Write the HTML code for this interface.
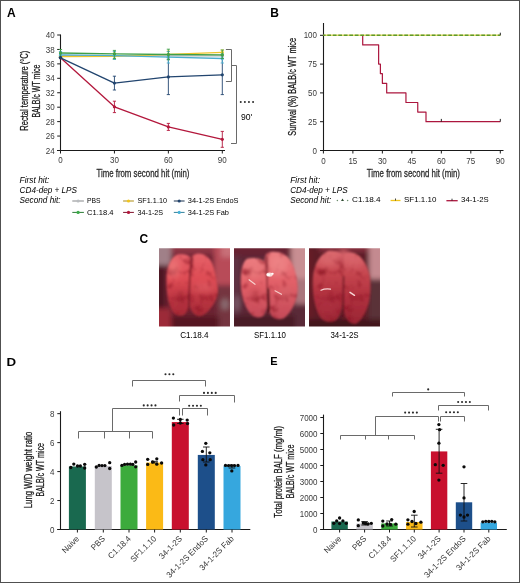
<!DOCTYPE html>
<html><head><meta charset="utf-8"><style>
html,body{margin:0;padding:0;background:#fff;}
body{width:520px;height:583px;overflow:hidden;}
svg{display:block;will-change:transform;}
text{font-family:"Liberation Sans", sans-serif;}
</style></head><body>
<svg width="520" height="583" viewBox="0 0 520 583" font-family='"Liberation Sans", sans-serif'>
<defs>
<filter id="blur1" x="-10%" y="-10%" width="120%" height="120%"><feGaussianBlur stdDeviation="0.95"/></filter>
<filter id="blur3" x="-20%" y="-20%" width="140%" height="140%"><feGaussianBlur stdDeviation="2.4"/></filter>
<filter id="blur4" x="-30%" y="-30%" width="160%" height="160%"><feGaussianBlur stdDeviation="3.2"/></filter>
<filter id="blur2" x="-20%" y="-20%" width="140%" height="140%"><feGaussianBlur stdDeviation="0.7"/></filter>
<filter id="tex" x="0" y="0" width="100%" height="100%" color-interpolation-filters="sRGB">
  <feTurbulence type="fractalNoise" baseFrequency="0.11" numOctaves="3" seed="7" result="n"/>
  <feColorMatrix in="n" type="matrix" values="0 0 0 0 0.55  0 0 0 0 0.08  0 0 0 0 0.14  0 0 -2.2 0 1.05" result="spots"/>
  <feComposite in="spots" in2="SourceGraphic" operator="in" result="s2"/>
  <feGaussianBlur in="s2" stdDeviation="0.6" result="s3"/>
  <feMerge><feMergeNode in="SourceGraphic"/><feMergeNode in="s3"/></feMerge>
</filter>
<filter id="texbg" x="0" y="0" width="100%" height="100%" color-interpolation-filters="sRGB">
  <feTurbulence type="fractalNoise" baseFrequency="0.09 0.2" numOctaves="2" seed="11" result="n"/>
  <feColorMatrix in="n" type="matrix" values="0 0 0 0 0.2  0 0 0 0 0.03  0 0 0 0 0.07  0 0 -2.4 0 1.1" result="spots"/>
  <feComposite in="spots" in2="SourceGraphic" operator="in" result="s2"/>
  <feGaussianBlur in="s2" stdDeviation="0.7" result="s3"/>
  <feMerge><feMergeNode in="SourceGraphic"/><feMergeNode in="s3"/></feMerge>
</filter>
<linearGradient id="lobeA" x1="0" y1="0" x2="0" y2="1"><stop offset="0" stop-color="#e6626a"/><stop offset="0.4" stop-color="#de4c54"/><stop offset="0.72" stop-color="#bc3642"/><stop offset="1" stop-color="#a62a36"/></linearGradient>
<linearGradient id="lobeB" x1="0" y1="0" x2="0" y2="1"><stop offset="0" stop-color="#ec7c80"/><stop offset="0.45" stop-color="#e26068"/><stop offset="1" stop-color="#c44a58"/></linearGradient>
<linearGradient id="lobeC" x1="0" y1="0" x2="0" y2="1"><stop offset="0" stop-color="#da666c"/><stop offset="0.3" stop-color="#c6464f"/><stop offset="0.62" stop-color="#b0303e"/><stop offset="1" stop-color="#9a2634"/></linearGradient>
</defs>
<rect x="0" y="0" width="520" height="583" fill="#fff"/>
<text x="7.00" y="16.50" font-size="12" font-weight="bold" fill="#000" >A</text>
<text x="270.30" y="16.60" font-size="12" font-weight="bold" fill="#000" >B</text>
<text x="139.60" y="242.70" font-size="12" font-weight="bold" fill="#000" >C</text>
<text x="6.50" y="365.60" font-size="11" textLength="9.60" lengthAdjust="spacingAndGlyphs" font-weight="bold" fill="#000" >D</text>
<text x="270.30" y="365.30" font-size="11" font-weight="bold" fill="#000" >E</text>
<line x1="60.50" y1="34.50" x2="60.50" y2="151.00" stroke="#1a1a1a" stroke-width="1.1" />
<line x1="57.00" y1="150.50" x2="225.00" y2="150.50" stroke="#1a1a1a" stroke-width="1.1" />
<line x1="57.20" y1="35.00" x2="60.50" y2="35.00" stroke="#1a1a1a" stroke-width="1" />
<text x="54.60" y="38.10" font-size="9.0" text-anchor="end" textLength="8.90" lengthAdjust="spacingAndGlyphs" fill="#3a3a3a" >40</text>
<line x1="57.20" y1="49.44" x2="60.50" y2="49.44" stroke="#1a1a1a" stroke-width="1" />
<text x="54.60" y="52.54" font-size="9.0" text-anchor="end" textLength="8.90" lengthAdjust="spacingAndGlyphs" fill="#3a3a3a" >38</text>
<line x1="57.20" y1="63.88" x2="60.50" y2="63.88" stroke="#1a1a1a" stroke-width="1" />
<text x="54.60" y="66.97" font-size="9.0" text-anchor="end" textLength="8.90" lengthAdjust="spacingAndGlyphs" fill="#3a3a3a" >36</text>
<line x1="57.20" y1="78.31" x2="60.50" y2="78.31" stroke="#1a1a1a" stroke-width="1" />
<text x="54.60" y="81.41" font-size="9.0" text-anchor="end" textLength="8.90" lengthAdjust="spacingAndGlyphs" fill="#3a3a3a" >34</text>
<line x1="57.20" y1="92.75" x2="60.50" y2="92.75" stroke="#1a1a1a" stroke-width="1" />
<text x="54.60" y="95.85" font-size="9.0" text-anchor="end" textLength="8.90" lengthAdjust="spacingAndGlyphs" fill="#3a3a3a" >32</text>
<line x1="57.20" y1="107.19" x2="60.50" y2="107.19" stroke="#1a1a1a" stroke-width="1" />
<text x="54.60" y="110.29" font-size="9.0" text-anchor="end" textLength="8.90" lengthAdjust="spacingAndGlyphs" fill="#3a3a3a" >30</text>
<line x1="57.20" y1="121.62" x2="60.50" y2="121.62" stroke="#1a1a1a" stroke-width="1" />
<text x="54.60" y="124.72" font-size="9.0" text-anchor="end" textLength="8.90" lengthAdjust="spacingAndGlyphs" fill="#3a3a3a" >28</text>
<line x1="57.20" y1="136.06" x2="60.50" y2="136.06" stroke="#1a1a1a" stroke-width="1" />
<text x="54.60" y="139.16" font-size="9.0" text-anchor="end" textLength="8.90" lengthAdjust="spacingAndGlyphs" fill="#3a3a3a" >26</text>
<line x1="57.20" y1="150.50" x2="60.50" y2="150.50" stroke="#1a1a1a" stroke-width="1" />
<text x="54.60" y="153.60" font-size="9.0" text-anchor="end" textLength="8.90" lengthAdjust="spacingAndGlyphs" fill="#3a3a3a" >24</text>
<line x1="60.50" y1="150.50" x2="60.50" y2="153.50" stroke="#1a1a1a" stroke-width="1" />
<text x="60.50" y="163.40" font-size="9.0" text-anchor="middle" textLength="4.45" lengthAdjust="spacingAndGlyphs" fill="#3a3a3a" >0</text>
<line x1="114.43" y1="150.50" x2="114.43" y2="153.50" stroke="#1a1a1a" stroke-width="1" />
<text x="114.43" y="163.40" font-size="9.0" text-anchor="middle" textLength="8.90" lengthAdjust="spacingAndGlyphs" fill="#3a3a3a" >30</text>
<line x1="168.37" y1="150.50" x2="168.37" y2="153.50" stroke="#1a1a1a" stroke-width="1" />
<text x="168.37" y="163.40" font-size="9.0" text-anchor="middle" textLength="8.90" lengthAdjust="spacingAndGlyphs" fill="#3a3a3a" >60</text>
<line x1="222.30" y1="150.50" x2="222.30" y2="153.50" stroke="#1a1a1a" stroke-width="1" />
<text x="222.30" y="163.40" font-size="9.0" text-anchor="middle" textLength="8.90" lengthAdjust="spacingAndGlyphs" fill="#3a3a3a" >90</text>
<text x="96.40" y="177.30" font-size="10.3" textLength="93.00" lengthAdjust="spacingAndGlyphs" fill="#2a2a2a" stroke="#2a2a2a" stroke-width="0.28">Time from second hit (min)</text>
<text x="0" y="0" font-size="10.3" text-anchor="middle" transform="translate(27.80,90.70) rotate(-90)" stroke="#333" stroke-width="0.28" textLength="80.00" lengthAdjust="spacingAndGlyphs">Rectal temperature (°C)</text>
<text x="0" y="0" font-size="10.3" text-anchor="middle" transform="translate(39.60,91.10) rotate(-90)" stroke="#333" stroke-width="0.28" textLength="53.00" lengthAdjust="spacingAndGlyphs">BALB/c WT mice</text>
<line x1="114.43" y1="101.20" x2="114.43" y2="112.60" stroke="#b3173c" stroke-width="0.9" />
<line x1="112.83" y1="101.20" x2="116.03" y2="101.20" stroke="#b3173c" stroke-width="0.9" />
<line x1="112.83" y1="112.60" x2="116.03" y2="112.60" stroke="#b3173c" stroke-width="0.9" />
<line x1="168.37" y1="123.40" x2="168.37" y2="130.40" stroke="#b3173c" stroke-width="0.9" />
<line x1="166.77" y1="123.40" x2="169.97" y2="123.40" stroke="#b3173c" stroke-width="0.9" />
<line x1="166.77" y1="130.40" x2="169.97" y2="130.40" stroke="#b3173c" stroke-width="0.9" />
<line x1="222.30" y1="131.40" x2="222.30" y2="147.30" stroke="#b3173c" stroke-width="0.9" />
<line x1="220.70" y1="131.40" x2="223.90" y2="131.40" stroke="#b3173c" stroke-width="0.9" />
<line x1="220.70" y1="147.30" x2="223.90" y2="147.30" stroke="#b3173c" stroke-width="0.9" />
<polyline points="60.50,57.80 114.43,106.80 168.37,126.90 222.30,139.30" fill="none" stroke="#b3173c" stroke-width="1.3" stroke-linejoin="round" />
<circle cx="60.50" cy="57.80" r="1.6" fill="#b3173c"/>
<circle cx="114.43" cy="106.80" r="1.6" fill="#b3173c"/>
<circle cx="168.37" cy="126.90" r="1.6" fill="#b3173c"/>
<circle cx="222.30" cy="139.30" r="1.6" fill="#b3173c"/>
<line x1="114.43" y1="76.20" x2="114.43" y2="90.00" stroke="#22456f" stroke-width="0.9" />
<line x1="112.83" y1="76.20" x2="116.03" y2="76.20" stroke="#22456f" stroke-width="0.9" />
<line x1="112.83" y1="90.00" x2="116.03" y2="90.00" stroke="#22456f" stroke-width="0.9" />
<line x1="168.37" y1="59.20" x2="168.37" y2="94.60" stroke="#22456f" stroke-width="0.9" />
<line x1="166.77" y1="59.20" x2="169.97" y2="59.20" stroke="#22456f" stroke-width="0.9" />
<line x1="166.77" y1="94.60" x2="169.97" y2="94.60" stroke="#22456f" stroke-width="0.9" />
<line x1="222.30" y1="55.00" x2="222.30" y2="94.60" stroke="#22456f" stroke-width="0.9" />
<line x1="220.70" y1="55.00" x2="223.90" y2="55.00" stroke="#22456f" stroke-width="0.9" />
<line x1="220.70" y1="94.60" x2="223.90" y2="94.60" stroke="#22456f" stroke-width="0.9" />
<polyline points="60.50,57.80 114.43,83.10 168.37,76.90 222.30,74.80" fill="none" stroke="#22456f" stroke-width="1.3" stroke-linejoin="round" />
<circle cx="60.50" cy="57.80" r="1.6" fill="#22456f"/>
<circle cx="114.43" cy="83.10" r="1.6" fill="#22456f"/>
<circle cx="168.37" cy="76.90" r="1.6" fill="#22456f"/>
<circle cx="222.30" cy="74.80" r="1.6" fill="#22456f"/>
<polyline points="60.50,55.50 114.43,55.60 168.37,55.80 222.30,55.80" fill="none" stroke="#b0b4b8" stroke-width="1.3" stroke-linejoin="round" />
<circle cx="60.50" cy="55.50" r="1.6" fill="#b0b4b8"/>
<circle cx="114.43" cy="55.60" r="1.6" fill="#b0b4b8"/>
<circle cx="168.37" cy="55.80" r="1.6" fill="#b0b4b8"/>
<circle cx="222.30" cy="55.80" r="1.6" fill="#b0b4b8"/>
<line x1="114.43" y1="53.00" x2="114.43" y2="59.50" stroke="#eec42a" stroke-width="0.9" />
<line x1="112.83" y1="53.00" x2="116.03" y2="53.00" stroke="#eec42a" stroke-width="0.9" />
<line x1="112.83" y1="59.50" x2="116.03" y2="59.50" stroke="#eec42a" stroke-width="0.9" />
<line x1="168.37" y1="51.00" x2="168.37" y2="57.50" stroke="#eec42a" stroke-width="0.9" />
<line x1="166.77" y1="51.00" x2="169.97" y2="51.00" stroke="#eec42a" stroke-width="0.9" />
<line x1="166.77" y1="57.50" x2="169.97" y2="57.50" stroke="#eec42a" stroke-width="0.9" />
<line x1="222.30" y1="50.00" x2="222.30" y2="55.00" stroke="#eec42a" stroke-width="0.9" />
<line x1="220.70" y1="50.00" x2="223.90" y2="50.00" stroke="#eec42a" stroke-width="0.9" />
<line x1="220.70" y1="55.00" x2="223.90" y2="55.00" stroke="#eec42a" stroke-width="0.9" />
<polyline points="60.50,56.50 114.43,56.30 168.37,54.30 222.30,52.40" fill="none" stroke="#eec42a" stroke-width="1.3" stroke-linejoin="round" />
<circle cx="60.50" cy="56.50" r="1.6" fill="#eec42a"/>
<circle cx="114.43" cy="56.30" r="1.6" fill="#eec42a"/>
<circle cx="168.37" cy="54.30" r="1.6" fill="#eec42a"/>
<circle cx="222.30" cy="52.40" r="1.6" fill="#eec42a"/>
<line x1="60.50" y1="51.50" x2="60.50" y2="58.00" stroke="#4aaed0" stroke-width="0.9" />
<line x1="58.90" y1="51.50" x2="62.10" y2="51.50" stroke="#4aaed0" stroke-width="0.9" />
<line x1="58.90" y1="58.00" x2="62.10" y2="58.00" stroke="#4aaed0" stroke-width="0.9" />
<line x1="114.43" y1="51.50" x2="114.43" y2="59.50" stroke="#4aaed0" stroke-width="0.9" />
<line x1="112.83" y1="51.50" x2="116.03" y2="51.50" stroke="#4aaed0" stroke-width="0.9" />
<line x1="112.83" y1="59.50" x2="116.03" y2="59.50" stroke="#4aaed0" stroke-width="0.9" />
<line x1="168.37" y1="51.50" x2="168.37" y2="63.00" stroke="#4aaed0" stroke-width="0.9" />
<line x1="166.77" y1="51.50" x2="169.97" y2="51.50" stroke="#4aaed0" stroke-width="0.9" />
<line x1="166.77" y1="63.00" x2="169.97" y2="63.00" stroke="#4aaed0" stroke-width="0.9" />
<line x1="222.30" y1="54.00" x2="222.30" y2="63.00" stroke="#4aaed0" stroke-width="0.9" />
<line x1="220.70" y1="54.00" x2="223.90" y2="54.00" stroke="#4aaed0" stroke-width="0.9" />
<line x1="220.70" y1="63.00" x2="223.90" y2="63.00" stroke="#4aaed0" stroke-width="0.9" />
<polyline points="60.50,54.90 114.43,55.60 168.37,57.20 222.30,58.50" fill="none" stroke="#4aaed0" stroke-width="1.3" stroke-linejoin="round" />
<circle cx="60.50" cy="54.90" r="1.6" fill="#4aaed0"/>
<circle cx="114.43" cy="55.60" r="1.6" fill="#4aaed0"/>
<circle cx="168.37" cy="57.20" r="1.6" fill="#4aaed0"/>
<circle cx="222.30" cy="58.50" r="1.6" fill="#4aaed0"/>
<line x1="60.50" y1="49.50" x2="60.50" y2="57.00" stroke="#3fa048" stroke-width="0.9" />
<line x1="58.90" y1="49.50" x2="62.10" y2="49.50" stroke="#3fa048" stroke-width="0.9" />
<line x1="58.90" y1="57.00" x2="62.10" y2="57.00" stroke="#3fa048" stroke-width="0.9" />
<line x1="114.43" y1="50.40" x2="114.43" y2="58.50" stroke="#3fa048" stroke-width="0.9" />
<line x1="112.83" y1="50.40" x2="116.03" y2="50.40" stroke="#3fa048" stroke-width="0.9" />
<line x1="112.83" y1="58.50" x2="116.03" y2="58.50" stroke="#3fa048" stroke-width="0.9" />
<line x1="168.37" y1="49.20" x2="168.37" y2="59.80" stroke="#3fa048" stroke-width="0.9" />
<line x1="166.77" y1="49.20" x2="169.97" y2="49.20" stroke="#3fa048" stroke-width="0.9" />
<line x1="166.77" y1="59.80" x2="169.97" y2="59.80" stroke="#3fa048" stroke-width="0.9" />
<line x1="222.30" y1="50.00" x2="222.30" y2="58.50" stroke="#3fa048" stroke-width="0.9" />
<line x1="220.70" y1="50.00" x2="223.90" y2="50.00" stroke="#3fa048" stroke-width="0.9" />
<line x1="220.70" y1="58.50" x2="223.90" y2="58.50" stroke="#3fa048" stroke-width="0.9" />
<polyline points="60.50,53.00 114.43,53.80 168.37,54.50 222.30,54.90" fill="none" stroke="#3fa048" stroke-width="1.3" stroke-linejoin="round" />
<circle cx="60.50" cy="53.00" r="1.6" fill="#3fa048"/>
<circle cx="114.43" cy="53.80" r="1.6" fill="#3fa048"/>
<circle cx="168.37" cy="54.50" r="1.6" fill="#3fa048"/>
<circle cx="222.30" cy="54.90" r="1.6" fill="#3fa048"/>
<circle cx="60.50" cy="57.60" r="1.7" fill="#1e3a5c"/>
<path d="M225.9,49.5 H231.5 V81.5 H225.9" fill="none" stroke="#6a6a6a" stroke-width="1"/>
<path d="M231.5,65.5 H236.5 V143.5 H231.0" fill="none" stroke="#6a6a6a" stroke-width="1"/>
<circle cx="240.75" cy="102.10" r="1.0" fill="#2a2a2a"/>
<circle cx="244.85" cy="102.10" r="1.0" fill="#2a2a2a"/>
<circle cx="248.95" cy="102.10" r="1.0" fill="#2a2a2a"/>
<circle cx="253.05" cy="102.10" r="1.0" fill="#2a2a2a"/>
<text x="241.00" y="120.20" font-size="8.2" textLength="11.20" lengthAdjust="spacingAndGlyphs" >90'</text>
<text x="19.60" y="182.70" font-size="8.2" textLength="29.80" lengthAdjust="spacingAndGlyphs" font-style="italic" >First hit:</text>
<text x="19.60" y="192.70" font-size="8.2" textLength="57.40" lengthAdjust="spacingAndGlyphs" font-style="italic" >CD4-dep + LPS</text>
<text x="19.60" y="202.70" font-size="8.2" textLength="41.00" lengthAdjust="spacingAndGlyphs" font-style="italic" >Second hit:</text>
<line x1="72.30" y1="201.00" x2="83.90" y2="201.00" stroke="#858789" stroke-width="1.0" />
<circle cx="78.10" cy="201.00" r="1.6" fill="#b9bcbf"/>
<text x="87.00" y="203.30" font-size="7.6" textLength="13.60" lengthAdjust="spacingAndGlyphs" >PBS</text>
<line x1="72.30" y1="212.40" x2="83.90" y2="212.40" stroke="#2b7b35" stroke-width="1.0" />
<circle cx="78.10" cy="212.40" r="1.6" fill="#3cab4a"/>
<text x="87.00" y="214.70" font-size="7.6" textLength="26.50" lengthAdjust="spacingAndGlyphs" >C1.18.4</text>
<line x1="123.10" y1="201.00" x2="133.90" y2="201.00" stroke="#ae8d14" stroke-width="1.0" />
<circle cx="128.50" cy="201.00" r="1.6" fill="#f2c51c"/>
<text x="137.50" y="203.30" font-size="7.6" textLength="29.50" lengthAdjust="spacingAndGlyphs" >SF1.1.10</text>
<line x1="123.10" y1="212.40" x2="133.90" y2="212.40" stroke="#80102b" stroke-width="1.0" />
<circle cx="128.50" cy="212.40" r="1.6" fill="#b3173c"/>
<text x="137.50" y="214.70" font-size="7.6" textLength="25.60" lengthAdjust="spacingAndGlyphs" >34-1-2S</text>
<line x1="173.80" y1="201.00" x2="184.60" y2="201.00" stroke="#18314f" stroke-width="1.0" />
<circle cx="179.20" cy="201.00" r="1.6" fill="#22456f"/>
<text x="187.80" y="203.30" font-size="7.6" textLength="50.70" lengthAdjust="spacingAndGlyphs" >34-1-2S EndoS</text>
<line x1="173.80" y1="212.40" x2="184.60" y2="212.40" stroke="#32809b" stroke-width="1.0" />
<circle cx="179.20" cy="212.40" r="1.6" fill="#46b2d8"/>
<text x="187.80" y="214.70" font-size="7.6" textLength="41.20" lengthAdjust="spacingAndGlyphs" >34-1-2S Fab</text>
<line x1="323.50" y1="23.00" x2="323.50" y2="151.00" stroke="#1a1a1a" stroke-width="1.1" />
<line x1="320.00" y1="150.50" x2="503.50" y2="150.50" stroke="#1a1a1a" stroke-width="1.1" />
<line x1="320.00" y1="35.30" x2="323.50" y2="35.30" stroke="#1a1a1a" stroke-width="1" />
<text x="317.00" y="38.40" font-size="9.0" text-anchor="end" textLength="13.35" lengthAdjust="spacingAndGlyphs" fill="#3a3a3a" >100</text>
<line x1="320.00" y1="64.10" x2="323.50" y2="64.10" stroke="#1a1a1a" stroke-width="1" />
<text x="317.00" y="67.20" font-size="9.0" text-anchor="end" textLength="8.90" lengthAdjust="spacingAndGlyphs" fill="#3a3a3a" >75</text>
<line x1="320.00" y1="92.90" x2="323.50" y2="92.90" stroke="#1a1a1a" stroke-width="1" />
<text x="317.00" y="96.00" font-size="9.0" text-anchor="end" textLength="8.90" lengthAdjust="spacingAndGlyphs" fill="#3a3a3a" >50</text>
<line x1="320.00" y1="121.70" x2="323.50" y2="121.70" stroke="#1a1a1a" stroke-width="1" />
<text x="317.00" y="124.80" font-size="9.0" text-anchor="end" textLength="8.90" lengthAdjust="spacingAndGlyphs" fill="#3a3a3a" >25</text>
<line x1="320.00" y1="150.50" x2="323.50" y2="150.50" stroke="#1a1a1a" stroke-width="1" />
<text x="317.00" y="153.60" font-size="9.0" text-anchor="end" textLength="4.45" lengthAdjust="spacingAndGlyphs" fill="#3a3a3a" >0</text>
<line x1="323.40" y1="150.50" x2="323.40" y2="153.50" stroke="#1a1a1a" stroke-width="1" />
<text x="323.40" y="163.60" font-size="9.0" text-anchor="middle" textLength="4.45" lengthAdjust="spacingAndGlyphs" fill="#3a3a3a" >0</text>
<line x1="352.88" y1="150.50" x2="352.88" y2="153.50" stroke="#1a1a1a" stroke-width="1" />
<text x="352.88" y="163.60" font-size="9.0" text-anchor="middle" textLength="8.90" lengthAdjust="spacingAndGlyphs" fill="#3a3a3a" >15</text>
<line x1="382.37" y1="150.50" x2="382.37" y2="153.50" stroke="#1a1a1a" stroke-width="1" />
<text x="382.37" y="163.60" font-size="9.0" text-anchor="middle" textLength="8.90" lengthAdjust="spacingAndGlyphs" fill="#3a3a3a" >30</text>
<line x1="411.85" y1="150.50" x2="411.85" y2="153.50" stroke="#1a1a1a" stroke-width="1" />
<text x="411.85" y="163.60" font-size="9.0" text-anchor="middle" textLength="8.90" lengthAdjust="spacingAndGlyphs" fill="#3a3a3a" >45</text>
<line x1="441.33" y1="150.50" x2="441.33" y2="153.50" stroke="#1a1a1a" stroke-width="1" />
<text x="441.33" y="163.60" font-size="9.0" text-anchor="middle" textLength="8.90" lengthAdjust="spacingAndGlyphs" fill="#3a3a3a" >60</text>
<line x1="470.82" y1="150.50" x2="470.82" y2="153.50" stroke="#1a1a1a" stroke-width="1" />
<text x="470.82" y="163.60" font-size="9.0" text-anchor="middle" textLength="8.90" lengthAdjust="spacingAndGlyphs" fill="#3a3a3a" >75</text>
<line x1="500.30" y1="150.50" x2="500.30" y2="153.50" stroke="#1a1a1a" stroke-width="1" />
<text x="500.30" y="163.60" font-size="9.0" text-anchor="middle" textLength="8.90" lengthAdjust="spacingAndGlyphs" fill="#3a3a3a" >90</text>
<text x="366.80" y="177.10" font-size="10.3" textLength="93.20" lengthAdjust="spacingAndGlyphs" fill="#2a2a2a" stroke="#2a2a2a" stroke-width="0.28">Time from second hit (min)</text>
<text x="0" y="0" font-size="10.3" text-anchor="middle" transform="translate(295.60,86.80) rotate(-90)" stroke="#333" stroke-width="0.28" textLength="97.80" lengthAdjust="spacingAndGlyphs">Survival  (%) BALB/c WT mice</text>
<polyline points="362.71,35.30 362.71,44.90 378.63,44.90 378.63,64.10 380.40,64.10 380.40,73.70 382.37,73.70 382.37,83.30 386.69,83.30 386.69,92.90 405.95,92.90 405.95,102.50 417.75,102.50 417.75,112.10 426.00,112.10 426.00,121.70 500.30,121.70" fill="none" stroke="#ac163e" stroke-width="1.2" stroke-linejoin="round" stroke-linejoin="miter"/>
<line x1="441.33" y1="118.90" x2="441.33" y2="121.70" stroke="#222" stroke-width="1" />
<line x1="500.30" y1="118.90" x2="500.30" y2="121.70" stroke="#222" stroke-width="1" />
<line x1="323.40" y1="35.30" x2="500.30" y2="35.30" stroke="#e2dc6a" stroke-width="1.6" />
<line x1="323.40" y1="35.30" x2="500.30" y2="35.30" stroke="#5f9a2a" stroke-width="1.5" stroke-dasharray="3.7,1.8" stroke-dashoffset="1.6"/>
<line x1="500.30" y1="32.70" x2="500.30" y2="35.30" stroke="#222" stroke-width="1" />
<text x="290.20" y="182.70" font-size="8.2" textLength="29.80" lengthAdjust="spacingAndGlyphs" font-style="italic" >First hit:</text>
<text x="290.20" y="192.70" font-size="8.2" textLength="57.40" lengthAdjust="spacingAndGlyphs" font-style="italic" >CD4-dep + LPS</text>
<text x="290.20" y="202.70" font-size="8.2" textLength="41.00" lengthAdjust="spacingAndGlyphs" font-style="italic" >Second hit:</text>
<circle cx="337.40" cy="200.60" r="0.75" fill="#6e8e6e"/>
<circle cx="347.60" cy="200.60" r="0.75" fill="#6e8e6e"/>
<path d="M342.5,198.5 l1.5,2.5 h-3z" fill="#2e4a30"/>
<text x="352.00" y="202.30" font-size="8" textLength="28.60" lengthAdjust="spacingAndGlyphs" >C1.18.4</text>
<line x1="390.60" y1="200.50" x2="400.50" y2="200.50" stroke="#f2c51c" stroke-width="1.3" />
<line x1="395.50" y1="198.50" x2="395.50" y2="200.50" stroke="#333" stroke-width="0.9" />
<text x="404.00" y="202.30" font-size="8" textLength="32.40" lengthAdjust="spacingAndGlyphs" >SF1.1.10</text>
<line x1="446.40" y1="200.70" x2="457.70" y2="200.70" stroke="#ac163e" stroke-width="1.3" />
<line x1="452.00" y1="198.70" x2="452.00" y2="200.70" stroke="#222" stroke-width="0.9" />
<text x="461.10" y="202.30" font-size="8" textLength="27.70" lengthAdjust="spacingAndGlyphs" >34-1-2S</text>
<clipPath id="clipP1"><rect x="159.0" y="248.3" width="71" height="78.3"/></clipPath>
<g clip-path="url(#clipP1)">
<g transform="translate(159.0,248.3)">
<g><g filter="url(#blur3)">
<rect x="-5.00" y="-5.00" width="81.00" height="88.30" fill="#6a2232" />
<rect x="-5" y="-5" width="17" height="22" fill="#a08088"/>
<rect x="12" y="-5" width="44" height="11" fill="#8e3444"/>
<rect x="55" y="-5" width="22" height="42" fill="#b84c58"/>
<rect x="62" y="-5" width="14" height="14" fill="#c87078"/>
<rect x="58" y="38" width="18" height="44" fill="#74343f"/>
<ellipse cx="66" cy="56" rx="4" ry="6" fill="#8a6a70"/>
<rect x="-5" y="17" width="11" height="44" fill="#4c1622"/>
<rect x="-5" y="60" width="17" height="24" fill="#9c2a38"/>
<rect x="12" y="68" width="48" height="16" fill="#561822"/>
</g></g>
<g filter="url(#blur1)">
<g filter="url(#tex)"><path d="M17.5,6.5 C22,5 28,6 31.5,9 C31,20 30,35 30,48 C30,56 29,63 26,66 C22,68.5 17,68 14,64 C9,56 7.5,45 7.5,32 C7.5,20 11,10 17.5,6.5Z" fill="url(#lobeA)"/><path d="M33,8 C35,5 40,4.5 44,6 C49,8 53,12 55,20 C57,27 57.5,33 59,40 C59.5,47 56,55 51.4,60.3 C48,65 44,68 40,68 C35,67 31.5,63 30.5,56 C29.8,45 30.5,30 31,18 C31.2,13 32,10 33,8Z" fill="url(#lobeA)"/></g>
<clipPath id="lc1"><path d="M17.5,6.5 C22,5 28,6 31.5,9 C31,20 30,35 30,48 C30,56 29,63 26,66 C22,68.5 17,68 14,64 C9,56 7.5,45 7.5,32 C7.5,20 11,10 17.5,6.5Z"/><path d="M33,8 C35,5 40,4.5 44,6 C49,8 53,12 55,20 C57,27 57.5,33 59,40 C59.5,47 56,55 51.4,60.3 C48,65 44,68 40,68 C35,67 31.5,63 30.5,56 C29.8,45 30.5,30 31,18 C31.2,13 32,10 33,8Z"/></clipPath>
<g clip-path="url(#lc1)"><g filter="url(#blur4)">
<ellipse cx="14" cy="20" rx="6" ry="10" fill="#ee7c7c" opacity="0.7"/>
<ellipse cx="45" cy="39" rx="11" ry="3.5" fill="#ea6a70" opacity="0.6"/>
<ellipse cx="22" cy="52" rx="6" ry="8" fill="#a8283a" opacity="0.5"/>
</g></g>
<path d="M33,9 L30.8,28 L29.6,64" stroke="#7a1a28" stroke-width="1.6" fill="none"/>
</g>
<g filter="url(#blur2)" fill="none" stroke-linecap="round">
</g>
</g></g>
<clipPath id="clipP2"><rect x="234.0" y="248.3" width="71" height="78.3"/></clipPath>
<g clip-path="url(#clipP2)">
<g transform="translate(234.0,248.3)">
<g><g filter="url(#blur3)">
<rect x="-5.00" y="-5.00" width="81.00" height="88.30" fill="#5c2636" />
<rect x="-5" y="-5" width="62" height="12" fill="#682432"/>
<rect x="-5" y="8" width="11" height="62" fill="#5e3242"/>
<ellipse cx="3" cy="55" rx="3" ry="8" fill="#7a5a68"/>
<rect x="57" y="-5" width="20" height="36" fill="#c88e92"/>
<rect x="60" y="31" width="16" height="25" fill="#aa747c"/>
<rect x="58" y="56" width="20" height="26" fill="#5a2a38"/>
<rect x="-5" y="67" width="66" height="18" fill="#4a1a28"/>
</g></g>
<g filter="url(#blur1)">
<g filter="url(#tex)"><path d="M13,10.5 C18,9 24,9.5 29,12 C33,16 34,24 34,34 C34.5,48 34,60 30,67 C27,70 22,70 18,67 C11,60 7,48 6.8,35 C6.6,24 8,14 13,10.5Z" fill="url(#lobeB)"/><path d="M33,5 C36,3 41,3 45,4 C50,5.5 54,8 57,13 C61,20 63.5,30 63.7,40 C63.5,52 58,64 50,70 C45,72 40,71 37,67 C34,60 34,50 34,40 C33.5,30 31,20 30.5,14 C30.5,10 31,7 33,5Z" fill="url(#lobeB)"/></g>
<clipPath id="lc2"><path d="M13,10.5 C18,9 24,9.5 29,12 C33,16 34,24 34,34 C34.5,48 34,60 30,67 C27,70 22,70 18,67 C11,60 7,48 6.8,35 C6.6,24 8,14 13,10.5Z"/><path d="M33,5 C36,3 41,3 45,4 C50,5.5 54,8 57,13 C61,20 63.5,30 63.7,40 C63.5,52 58,64 50,70 C45,72 40,71 37,67 C34,60 34,50 34,40 C33.5,30 31,20 30.5,14 C30.5,10 31,7 33,5Z"/></clipPath>
<g clip-path="url(#lc2)"><g filter="url(#blur4)">
<ellipse cx="44" cy="17" rx="10" ry="10" fill="#f08c8c" opacity="0.6"/>
<ellipse cx="20" cy="22" rx="7" ry="9" fill="#ec8080" opacity="0.5"/>
<ellipse cx="21" cy="46" rx="5" ry="7" fill="#c0444c" opacity="0.55"/>
<ellipse cx="52" cy="45" rx="6" ry="8" fill="#d46468" opacity="0.5"/>
</g></g>
<path d="M32.5,8 L33,30 L34,66" stroke="#7a1e2a" stroke-width="1.3" fill="none"/>
<path d="M33.2,40 L35.2,40 L36,64 L33.6,64Z" fill="#4a0c14"/>
</g>
<g filter="url(#blur2)" fill="none" stroke-linecap="round">
<path d="M15,31.5 L21,36" stroke="#f8d4d0" stroke-width="1.1"/>
<ellipse cx="35.5" cy="26.3" rx="3.2" ry="2.2" fill="#f8dcd8" stroke="none"/>
<ellipse cx="34.5" cy="26.5" rx="1.6" ry="1.2" fill="#ffffff" stroke="none"/>
<ellipse cx="38.5" cy="25.5" rx="1.2" ry="1.0" fill="#ffffff" stroke="none"/>
<path d="M41,42.5 L47.5,46" stroke="#f4ccc8" stroke-width="1.1"/>
</g>
</g></g>
<clipPath id="clipP3"><rect x="309.0" y="248.3" width="71" height="78.3"/></clipPath>
<g clip-path="url(#clipP3)">
<g transform="translate(309.0,248.3)">
<g><g filter="url(#blur3)">
<rect x="-5.00" y="-5.00" width="81.00" height="88.30" fill="#5c1a28" />
<rect x="10" y="-5" width="50" height="8" fill="#8a3040"/>
<rect x="60" y="-5" width="16" height="36" fill="#c48a90"/>
<rect x="60" y="31" width="16" height="50" fill="#5a3038"/>
<rect x="-5" y="0" width="9" height="80" fill="#661a28"/>
<rect x="-5" y="71" width="80" height="14" fill="#42141e"/>
</g></g>
<g filter="url(#blur1)">
<g filter="url(#tex)"><path d="M19,2.6 C25,2 30,3 34,6 C35,15 34.5,30 34,45 C34,58 32,68 27,72 C22,75 15,74 11,69 C6,60 3.7,48 3.7,35 C3.7,20 8,8 19,2.6Z" fill="url(#lobeC)"/><path d="M35,5 C38,3.5 42,3.5 46,5 C52,8 57,14 60,24 C62,33 62,44 60,54 C57,65 52,73 46.8,75.7 C41,76 37,72 35.5,65 C34,55 34,40 34.2,25 C34.2,15 34,9 35,5Z" fill="url(#lobeC)"/></g>
<clipPath id="lc3"><path d="M19,2.6 C25,2 30,3 34,6 C35,15 34.5,30 34,45 C34,58 32,68 27,72 C22,75 15,74 11,69 C6,60 3.7,48 3.7,35 C3.7,20 8,8 19,2.6Z"/><path d="M35,5 C38,3.5 42,3.5 46,5 C52,8 57,14 60,24 C62,33 62,44 60,54 C57,65 52,73 46.8,75.7 C41,76 37,72 35.5,65 C34,55 34,40 34.2,25 C34.2,15 34,9 35,5Z"/></clipPath>
<g clip-path="url(#lc3)"><g filter="url(#blur4)">
<ellipse cx="20" cy="10" rx="11" ry="8" fill="#de6c72" opacity="0.6"/>
<ellipse cx="44" cy="11" rx="10" ry="8" fill="#da666c" opacity="0.6"/>
<ellipse cx="18" cy="58" rx="9" ry="10" fill="#b03040" opacity="0.5"/>
</g></g>
<ellipse cx="34.5" cy="6" rx="5" ry="5" fill="#d8646a" filter="url(#blur3)"/>
<path d="M34.6,28 L34.3,50 L34.6,72" stroke="#6a1422" stroke-width="1.5" fill="none"/>
</g>
<g filter="url(#blur2)" fill="none" stroke-linecap="round">
<path d="M12,42 Q16,40 21.5,40.8" stroke="#f6d0d0" stroke-width="1.2"/>
<path d="M41,44 L45.5,47" stroke="#f8d8d8" stroke-width="1.4"/>
</g>
</g></g>
<text x="194.40" y="337.70" font-size="8.6" text-anchor="middle" textLength="28.50" lengthAdjust="spacingAndGlyphs" >C1.18.4</text>
<text x="270.00" y="337.70" font-size="8.6" text-anchor="middle" textLength="32.00" lengthAdjust="spacingAndGlyphs" >SF1.1.10</text>
<text x="344.50" y="337.70" font-size="8.6" text-anchor="middle" textLength="28.20" lengthAdjust="spacingAndGlyphs" >34-1-2S</text>
<line x1="60.50" y1="411.20" x2="60.50" y2="530.00" stroke="#1a1a1a" stroke-width="1.1" />
<line x1="57.30" y1="529.50" x2="250.30" y2="529.50" stroke="#1a1a1a" stroke-width="1.1" />
<line x1="57.30" y1="413.66" x2="60.50" y2="413.66" stroke="#1a1a1a" stroke-width="1" />
<text x="54.50" y="416.76" font-size="9.0" text-anchor="end" textLength="4.45" lengthAdjust="spacingAndGlyphs" fill="#3a3a3a" >8</text>
<line x1="57.30" y1="442.62" x2="60.50" y2="442.62" stroke="#1a1a1a" stroke-width="1" />
<text x="54.50" y="445.72" font-size="9.0" text-anchor="end" textLength="4.45" lengthAdjust="spacingAndGlyphs" fill="#3a3a3a" >6</text>
<line x1="57.30" y1="471.58" x2="60.50" y2="471.58" stroke="#1a1a1a" stroke-width="1" />
<text x="54.50" y="474.68" font-size="9.0" text-anchor="end" textLength="4.45" lengthAdjust="spacingAndGlyphs" fill="#3a3a3a" >4</text>
<line x1="57.30" y1="500.54" x2="60.50" y2="500.54" stroke="#1a1a1a" stroke-width="1" />
<text x="54.50" y="503.64" font-size="9.0" text-anchor="end" textLength="4.45" lengthAdjust="spacingAndGlyphs" fill="#3a3a3a" >2</text>
<line x1="57.30" y1="529.50" x2="60.50" y2="529.50" stroke="#1a1a1a" stroke-width="1" />
<text x="54.50" y="532.60" font-size="9.0" text-anchor="end" textLength="4.45" lengthAdjust="spacingAndGlyphs" fill="#3a3a3a" >0</text>
<rect x="68.90" y="466.51" width="17.00" height="62.99" fill="#19694f" />
<line x1="77.40" y1="529.50" x2="77.40" y2="532.50" stroke="#1a1a1a" stroke-width="1" />
<rect x="94.80" y="466.08" width="17.00" height="63.42" fill="#c6c4ca" />
<line x1="103.30" y1="529.50" x2="103.30" y2="532.50" stroke="#1a1a1a" stroke-width="1" />
<rect x="120.50" y="465.35" width="17.00" height="64.15" fill="#3cab3c" />
<line x1="129.00" y1="529.50" x2="129.00" y2="532.50" stroke="#1a1a1a" stroke-width="1" />
<rect x="146.10" y="462.60" width="17.00" height="66.90" fill="#fbba16" />
<line x1="154.60" y1="529.50" x2="154.60" y2="532.50" stroke="#1a1a1a" stroke-width="1" />
<rect x="171.80" y="422.06" width="17.00" height="107.44" fill="#c8102e" />
<line x1="180.30" y1="529.50" x2="180.30" y2="532.50" stroke="#1a1a1a" stroke-width="1" />
<rect x="197.80" y="454.93" width="17.00" height="74.57" fill="#1d4f8a" />
<line x1="206.30" y1="529.50" x2="206.30" y2="532.50" stroke="#1a1a1a" stroke-width="1" />
<rect x="223.50" y="466.08" width="17.00" height="63.42" fill="#36a7de" />
<line x1="232.00" y1="529.50" x2="232.00" y2="532.50" stroke="#1a1a1a" stroke-width="1" />
<circle cx="70.80" cy="467.50" r="1.65" fill="#0a0a0a"/>
<circle cx="73.80" cy="464.10" r="1.65" fill="#0a0a0a"/>
<circle cx="77.50" cy="466.00" r="1.65" fill="#0a0a0a"/>
<circle cx="80.40" cy="466.00" r="1.65" fill="#0a0a0a"/>
<circle cx="84.70" cy="464.30" r="1.65" fill="#0a0a0a"/>
<circle cx="84.70" cy="468.00" r="1.65" fill="#0a0a0a"/>
<circle cx="96.30" cy="467.00" r="1.65" fill="#0a0a0a"/>
<circle cx="99.10" cy="465.40" r="1.65" fill="#0a0a0a"/>
<circle cx="102.00" cy="465.60" r="1.65" fill="#0a0a0a"/>
<circle cx="104.90" cy="465.60" r="1.65" fill="#0a0a0a"/>
<circle cx="109.70" cy="462.70" r="1.65" fill="#0a0a0a"/>
<circle cx="109.70" cy="468.50" r="1.65" fill="#0a0a0a"/>
<circle cx="121.90" cy="465.40" r="1.65" fill="#0a0a0a"/>
<circle cx="124.60" cy="464.40" r="1.65" fill="#0a0a0a"/>
<circle cx="127.50" cy="464.20" r="1.65" fill="#0a0a0a"/>
<circle cx="130.40" cy="464.20" r="1.65" fill="#0a0a0a"/>
<circle cx="132.80" cy="464.40" r="1.65" fill="#0a0a0a"/>
<circle cx="135.70" cy="462.00" r="1.65" fill="#0a0a0a"/>
<circle cx="135.70" cy="466.80" r="1.65" fill="#0a0a0a"/>
<line x1="154.60" y1="461.30" x2="154.60" y2="463.00" stroke="#111" stroke-width="0.9" />
<line x1="151.30" y1="461.30" x2="157.90" y2="461.30" stroke="#111" stroke-width="0.9" />
<line x1="151.30" y1="463.00" x2="157.90" y2="463.00" stroke="#111" stroke-width="0.9" />
<circle cx="147.70" cy="459.30" r="1.65" fill="#0a0a0a"/>
<circle cx="147.70" cy="464.40" r="1.65" fill="#0a0a0a"/>
<circle cx="156.80" cy="458.80" r="1.65" fill="#0a0a0a"/>
<circle cx="156.80" cy="464.20" r="1.65" fill="#0a0a0a"/>
<circle cx="161.60" cy="463.00" r="1.65" fill="#0a0a0a"/>
<circle cx="152.60" cy="462.00" r="1.65" fill="#0a0a0a"/>
<line x1="180.30" y1="419.30" x2="180.30" y2="423.50" stroke="#111" stroke-width="0.9" />
<line x1="177.00" y1="419.30" x2="183.60" y2="419.30" stroke="#111" stroke-width="0.9" />
<line x1="177.00" y1="423.50" x2="183.60" y2="423.50" stroke="#111" stroke-width="0.9" />
<circle cx="173.40" cy="418.10" r="1.65" fill="#0a0a0a"/>
<circle cx="180.30" cy="419.50" r="1.65" fill="#0a0a0a"/>
<circle cx="187.20" cy="420.10" r="1.65" fill="#0a0a0a"/>
<circle cx="173.70" cy="425.00" r="1.65" fill="#0a0a0a"/>
<circle cx="180.30" cy="423.00" r="1.65" fill="#0a0a0a"/>
<circle cx="187.50" cy="423.60" r="1.65" fill="#0a0a0a"/>
<line x1="206.30" y1="447.00" x2="206.30" y2="462.00" stroke="#111" stroke-width="0.9" />
<line x1="203.00" y1="447.00" x2="209.60" y2="447.00" stroke="#111" stroke-width="0.9" />
<line x1="203.00" y1="462.00" x2="209.60" y2="462.00" stroke="#111" stroke-width="0.9" />
<circle cx="205.80" cy="443.30" r="1.65" fill="#0a0a0a"/>
<circle cx="202.40" cy="451.40" r="1.65" fill="#0a0a0a"/>
<circle cx="209.80" cy="452.80" r="1.65" fill="#0a0a0a"/>
<circle cx="202.90" cy="459.70" r="1.65" fill="#0a0a0a"/>
<circle cx="210.20" cy="459.70" r="1.65" fill="#0a0a0a"/>
<circle cx="205.80" cy="464.90" r="1.65" fill="#0a0a0a"/>
<line x1="232.00" y1="465.00" x2="232.00" y2="468.00" stroke="#111" stroke-width="0.9" />
<line x1="228.70" y1="465.00" x2="235.30" y2="465.00" stroke="#111" stroke-width="0.9" />
<line x1="228.70" y1="468.00" x2="235.30" y2="468.00" stroke="#111" stroke-width="0.9" />
<circle cx="225.50" cy="465.40" r="1.65" fill="#0a0a0a"/>
<circle cx="228.50" cy="465.60" r="1.65" fill="#0a0a0a"/>
<circle cx="231.50" cy="465.60" r="1.65" fill="#0a0a0a"/>
<circle cx="234.50" cy="465.60" r="1.65" fill="#0a0a0a"/>
<circle cx="238.00" cy="465.40" r="1.65" fill="#0a0a0a"/>
<circle cx="231.80" cy="470.90" r="1.65" fill="#0a0a0a"/>
<text x="0" y="0" font-size="8.3" text-anchor="end" textLength="20.58" lengthAdjust="spacingAndGlyphs" transform="translate(79.70,539.30) rotate(-45)" fill="#333">Naive</text>
<text x="0" y="0" font-size="8.3" text-anchor="end" textLength="16.11" lengthAdjust="spacingAndGlyphs" transform="translate(105.60,539.30) rotate(-45)" fill="#333">PBS</text>
<text x="0" y="0" font-size="8.3" text-anchor="end" textLength="28.20" lengthAdjust="spacingAndGlyphs" transform="translate(131.30,539.30) rotate(-45)" fill="#333">C1.18.4</text>
<text x="0" y="0" font-size="8.3" text-anchor="end" textLength="32.67" lengthAdjust="spacingAndGlyphs" transform="translate(156.90,539.30) rotate(-45)" fill="#333">SF1.1.10</text>
<text x="0" y="0" font-size="8.3" text-anchor="end" textLength="28.64" lengthAdjust="spacingAndGlyphs" transform="translate(182.60,539.30) rotate(-45)" fill="#333">34-1-2S</text>
<text x="0" y="0" font-size="8.3" text-anchor="end" textLength="55.05" lengthAdjust="spacingAndGlyphs" transform="translate(208.60,539.30) rotate(-45)" fill="#333">34-1-2S EndoS</text>
<text x="0" y="0" font-size="8.3" text-anchor="end" textLength="44.75" lengthAdjust="spacingAndGlyphs" transform="translate(234.30,539.30) rotate(-45)" fill="#333">34-1-2S Fab</text>
<path d="M78.5,438.5 V431.5 H152.5 V438.5 M104.5,431.5 V438.5 M129.5,431.5 V438.5 M112.5,431.5 V408.5 H179.5 V415.5" fill="none" stroke="#6a6a6a" stroke-width="1"/>
<path d="M182.5,415.5 V408.5 H207.5 V415.5" fill="none" stroke="#6a6a6a" stroke-width="1"/>
<path d="M179.5,401.5 V395.5 H234.5 V402.5" fill="none" stroke="#6a6a6a" stroke-width="1"/>
<path d="M132.5,386.5 V380.5 H205.5 V386.5" fill="none" stroke="#6a6a6a" stroke-width="1"/>
<circle cx="143.75" cy="405.40" r="1.05" fill="#2a2a2a"/>
<circle cx="147.65" cy="405.40" r="1.05" fill="#2a2a2a"/>
<circle cx="151.55" cy="405.40" r="1.05" fill="#2a2a2a"/>
<circle cx="155.45" cy="405.40" r="1.05" fill="#2a2a2a"/>
<circle cx="189.15" cy="405.80" r="1.05" fill="#2a2a2a"/>
<circle cx="193.05" cy="405.80" r="1.05" fill="#2a2a2a"/>
<circle cx="196.95" cy="405.80" r="1.05" fill="#2a2a2a"/>
<circle cx="200.85" cy="405.80" r="1.05" fill="#2a2a2a"/>
<circle cx="204.00" cy="392.90" r="1.05" fill="#2a2a2a"/>
<circle cx="207.90" cy="392.90" r="1.05" fill="#2a2a2a"/>
<circle cx="211.80" cy="392.90" r="1.05" fill="#2a2a2a"/>
<circle cx="215.70" cy="392.90" r="1.05" fill="#2a2a2a"/>
<circle cx="165.50" cy="374.20" r="1.05" fill="#2a2a2a"/>
<circle cx="169.40" cy="374.20" r="1.05" fill="#2a2a2a"/>
<circle cx="173.30" cy="374.20" r="1.05" fill="#2a2a2a"/>
<text x="0" y="0" font-size="10.0" text-anchor="middle" transform="translate(31.90,470.00) rotate(-90)" stroke="#333" stroke-width="0.28" textLength="76.50" lengthAdjust="spacingAndGlyphs">Lung W/D weight ratio</text>
<text x="0" y="0" font-size="10.0" text-anchor="middle" transform="translate(44.30,469.80) rotate(-90)" stroke="#333" stroke-width="0.28" textLength="53.40" lengthAdjust="spacingAndGlyphs">BALB/c WT mice</text>
<line x1="323.50" y1="414.60" x2="323.50" y2="530.00" stroke="#1a1a1a" stroke-width="1.1" />
<line x1="320.30" y1="529.50" x2="506.80" y2="529.50" stroke="#1a1a1a" stroke-width="1.1" />
<line x1="320.30" y1="417.50" x2="323.50" y2="417.50" stroke="#1a1a1a" stroke-width="1" />
<text x="317.50" y="420.60" font-size="9.0" text-anchor="end" textLength="17.80" lengthAdjust="spacingAndGlyphs" fill="#3a3a3a" >7000</text>
<line x1="320.30" y1="433.50" x2="323.50" y2="433.50" stroke="#1a1a1a" stroke-width="1" />
<text x="317.50" y="436.60" font-size="9.0" text-anchor="end" textLength="17.80" lengthAdjust="spacingAndGlyphs" fill="#3a3a3a" >6000</text>
<line x1="320.30" y1="449.50" x2="323.50" y2="449.50" stroke="#1a1a1a" stroke-width="1" />
<text x="317.50" y="452.60" font-size="9.0" text-anchor="end" textLength="17.80" lengthAdjust="spacingAndGlyphs" fill="#3a3a3a" >5000</text>
<line x1="320.30" y1="465.50" x2="323.50" y2="465.50" stroke="#1a1a1a" stroke-width="1" />
<text x="317.50" y="468.60" font-size="9.0" text-anchor="end" textLength="17.80" lengthAdjust="spacingAndGlyphs" fill="#3a3a3a" >4000</text>
<line x1="320.30" y1="481.50" x2="323.50" y2="481.50" stroke="#1a1a1a" stroke-width="1" />
<text x="317.50" y="484.60" font-size="9.0" text-anchor="end" textLength="17.80" lengthAdjust="spacingAndGlyphs" fill="#3a3a3a" >3000</text>
<line x1="320.30" y1="497.50" x2="323.50" y2="497.50" stroke="#1a1a1a" stroke-width="1" />
<text x="317.50" y="500.60" font-size="9.0" text-anchor="end" textLength="17.80" lengthAdjust="spacingAndGlyphs" fill="#3a3a3a" >2000</text>
<line x1="320.30" y1="513.50" x2="323.50" y2="513.50" stroke="#1a1a1a" stroke-width="1" />
<text x="317.50" y="516.60" font-size="9.0" text-anchor="end" textLength="17.80" lengthAdjust="spacingAndGlyphs" fill="#3a3a3a" >1000</text>
<line x1="320.30" y1="529.50" x2="323.50" y2="529.50" stroke="#1a1a1a" stroke-width="1" />
<text x="317.50" y="532.60" font-size="9.0" text-anchor="end" textLength="4.45" lengthAdjust="spacingAndGlyphs" fill="#3a3a3a" >0</text>
<rect x="331.40" y="521.50" width="16.40" height="8.00" fill="#19694f" />
<line x1="339.60" y1="529.50" x2="339.60" y2="532.50" stroke="#1a1a1a" stroke-width="1" />
<rect x="356.40" y="523.58" width="16.40" height="5.92" fill="#c6c4ca" />
<line x1="364.60" y1="529.50" x2="364.60" y2="532.50" stroke="#1a1a1a" stroke-width="1" />
<rect x="381.30" y="523.42" width="16.40" height="6.08" fill="#3cab3c" />
<line x1="389.50" y1="529.50" x2="389.50" y2="532.50" stroke="#1a1a1a" stroke-width="1" />
<rect x="406.10" y="521.98" width="16.40" height="7.52" fill="#fbba16" />
<line x1="414.30" y1="529.50" x2="414.30" y2="532.50" stroke="#1a1a1a" stroke-width="1" />
<rect x="430.90" y="451.42" width="16.40" height="78.08" fill="#c8102e" />
<line x1="439.10" y1="529.50" x2="439.10" y2="532.50" stroke="#1a1a1a" stroke-width="1" />
<rect x="455.80" y="502.30" width="16.40" height="27.20" fill="#1d4f8a" />
<line x1="464.00" y1="529.50" x2="464.00" y2="532.50" stroke="#1a1a1a" stroke-width="1" />
<rect x="480.60" y="522.62" width="16.40" height="6.88" fill="#36a7de" />
<line x1="488.80" y1="529.50" x2="488.80" y2="532.50" stroke="#1a1a1a" stroke-width="1" />
<circle cx="339.60" cy="518.00" r="1.65" fill="#0a0a0a"/>
<circle cx="336.70" cy="520.90" r="1.65" fill="#0a0a0a"/>
<circle cx="342.90" cy="520.90" r="1.65" fill="#0a0a0a"/>
<circle cx="333.80" cy="523.30" r="1.65" fill="#0a0a0a"/>
<circle cx="346.30" cy="523.30" r="1.65" fill="#0a0a0a"/>
<circle cx="339.60" cy="523.60" r="1.65" fill="#0a0a0a"/>
<line x1="364.60" y1="521.60" x2="364.60" y2="525.00" stroke="#111" stroke-width="0.9" />
<line x1="361.30" y1="521.60" x2="367.90" y2="521.60" stroke="#111" stroke-width="0.9" />
<line x1="361.30" y1="525.00" x2="367.90" y2="525.00" stroke="#111" stroke-width="0.9" />
<circle cx="358.30" cy="519.90" r="1.65" fill="#0a0a0a"/>
<circle cx="358.30" cy="525.70" r="1.65" fill="#0a0a0a"/>
<circle cx="363.30" cy="523.00" r="1.65" fill="#0a0a0a"/>
<circle cx="365.80" cy="523.50" r="1.65" fill="#0a0a0a"/>
<circle cx="368.10" cy="524.00" r="1.65" fill="#0a0a0a"/>
<circle cx="371.30" cy="523.30" r="1.65" fill="#0a0a0a"/>
<line x1="389.50" y1="521.00" x2="389.50" y2="526.00" stroke="#111" stroke-width="0.9" />
<line x1="386.20" y1="521.00" x2="392.80" y2="521.00" stroke="#111" stroke-width="0.9" />
<line x1="386.20" y1="526.00" x2="392.80" y2="526.00" stroke="#111" stroke-width="0.9" />
<circle cx="382.80" cy="521.10" r="1.65" fill="#0a0a0a"/>
<circle cx="382.80" cy="526.00" r="1.65" fill="#0a0a0a"/>
<circle cx="391.70" cy="519.60" r="1.65" fill="#0a0a0a"/>
<circle cx="387.00" cy="524.00" r="1.65" fill="#0a0a0a"/>
<circle cx="390.50" cy="524.50" r="1.65" fill="#0a0a0a"/>
<circle cx="395.80" cy="524.20" r="1.65" fill="#0a0a0a"/>
<line x1="414.30" y1="515.20" x2="414.30" y2="527.00" stroke="#111" stroke-width="0.9" />
<line x1="411.00" y1="515.20" x2="417.60" y2="515.20" stroke="#111" stroke-width="0.9" />
<line x1="411.00" y1="527.00" x2="417.60" y2="527.00" stroke="#111" stroke-width="0.9" />
<circle cx="414.20" cy="511.50" r="1.65" fill="#0a0a0a"/>
<circle cx="407.90" cy="519.80" r="1.65" fill="#0a0a0a"/>
<circle cx="407.90" cy="524.20" r="1.65" fill="#0a0a0a"/>
<circle cx="412.00" cy="521.50" r="1.65" fill="#0a0a0a"/>
<circle cx="415.90" cy="523.50" r="1.65" fill="#0a0a0a"/>
<circle cx="420.90" cy="522.20" r="1.65" fill="#0a0a0a"/>
<line x1="439.10" y1="429.30" x2="439.10" y2="473.20" stroke="#111" stroke-width="0.9" />
<line x1="435.80" y1="429.30" x2="442.40" y2="429.30" stroke="#111" stroke-width="0.9" />
<line x1="435.80" y1="473.20" x2="442.40" y2="473.20" stroke="#111" stroke-width="0.9" />
<circle cx="438.90" cy="424.60" r="1.65" fill="#0a0a0a"/>
<circle cx="439.60" cy="429.70" r="1.65" fill="#0a0a0a"/>
<circle cx="438.90" cy="443.20" r="1.65" fill="#0a0a0a"/>
<circle cx="435.30" cy="464.70" r="1.65" fill="#0a0a0a"/>
<circle cx="443.20" cy="465.30" r="1.65" fill="#0a0a0a"/>
<circle cx="438.90" cy="480.10" r="1.65" fill="#0a0a0a"/>
<line x1="464.00" y1="483.50" x2="464.00" y2="521.00" stroke="#111" stroke-width="0.9" />
<line x1="460.70" y1="483.50" x2="467.30" y2="483.50" stroke="#111" stroke-width="0.9" />
<line x1="460.70" y1="521.00" x2="467.30" y2="521.00" stroke="#111" stroke-width="0.9" />
<circle cx="464.00" cy="466.80" r="1.65" fill="#0a0a0a"/>
<circle cx="464.00" cy="497.90" r="1.65" fill="#0a0a0a"/>
<circle cx="460.40" cy="515.10" r="1.65" fill="#0a0a0a"/>
<circle cx="467.50" cy="515.10" r="1.65" fill="#0a0a0a"/>
<circle cx="464.00" cy="517.00" r="1.65" fill="#0a0a0a"/>
<circle cx="482.80" cy="521.80" r="1.65" fill="#0a0a0a"/>
<circle cx="485.80" cy="521.30" r="1.65" fill="#0a0a0a"/>
<circle cx="488.80" cy="521.50" r="1.65" fill="#0a0a0a"/>
<circle cx="491.80" cy="521.30" r="1.65" fill="#0a0a0a"/>
<circle cx="494.80" cy="521.80" r="1.65" fill="#0a0a0a"/>
<text x="0" y="0" font-size="8.3" text-anchor="end" textLength="20.58" lengthAdjust="spacingAndGlyphs" transform="translate(341.90,539.30) rotate(-45)" fill="#333">Naive</text>
<text x="0" y="0" font-size="8.3" text-anchor="end" textLength="16.11" lengthAdjust="spacingAndGlyphs" transform="translate(366.90,539.30) rotate(-45)" fill="#333">PBS</text>
<text x="0" y="0" font-size="8.3" text-anchor="end" textLength="28.20" lengthAdjust="spacingAndGlyphs" transform="translate(391.80,539.30) rotate(-45)" fill="#333">C1.18.4</text>
<text x="0" y="0" font-size="8.3" text-anchor="end" textLength="32.67" lengthAdjust="spacingAndGlyphs" transform="translate(416.60,539.30) rotate(-45)" fill="#333">SF1.1.10</text>
<text x="0" y="0" font-size="8.3" text-anchor="end" textLength="28.64" lengthAdjust="spacingAndGlyphs" transform="translate(441.40,539.30) rotate(-45)" fill="#333">34-1-2S</text>
<text x="0" y="0" font-size="8.3" text-anchor="end" textLength="55.05" lengthAdjust="spacingAndGlyphs" transform="translate(466.30,539.30) rotate(-45)" fill="#333">34-1-2S EndoS</text>
<text x="0" y="0" font-size="8.3" text-anchor="end" textLength="44.75" lengthAdjust="spacingAndGlyphs" transform="translate(491.10,539.30) rotate(-45)" fill="#333">34-1-2S Fab</text>
<path d="M340.5,439.5 V435.5 H414.5 V439.5 M365.5,435.5 V439.5 M388.5,435.5 V439.5 M375.5,435.5 V416.5 H438.5 V421.5" fill="none" stroke="#6a6a6a" stroke-width="1"/>
<path d="M440.5,421.5 V416.5 H464.5 V421.5" fill="none" stroke="#6a6a6a" stroke-width="1"/>
<path d="M438.5,410.5 V405.5 H488.5 V410.5" fill="none" stroke="#6a6a6a" stroke-width="1"/>
<path d="M392.5,396.5 V392.5 H464.5 V396.5" fill="none" stroke="#6a6a6a" stroke-width="1"/>
<circle cx="405.15" cy="412.60" r="1.05" fill="#2a2a2a"/>
<circle cx="409.05" cy="412.60" r="1.05" fill="#2a2a2a"/>
<circle cx="412.95" cy="412.60" r="1.05" fill="#2a2a2a"/>
<circle cx="416.85" cy="412.60" r="1.05" fill="#2a2a2a"/>
<circle cx="446.15" cy="412.30" r="1.05" fill="#2a2a2a"/>
<circle cx="450.05" cy="412.30" r="1.05" fill="#2a2a2a"/>
<circle cx="453.95" cy="412.30" r="1.05" fill="#2a2a2a"/>
<circle cx="457.85" cy="412.30" r="1.05" fill="#2a2a2a"/>
<circle cx="458.15" cy="402.00" r="1.05" fill="#2a2a2a"/>
<circle cx="462.05" cy="402.00" r="1.05" fill="#2a2a2a"/>
<circle cx="465.95" cy="402.00" r="1.05" fill="#2a2a2a"/>
<circle cx="469.85" cy="402.00" r="1.05" fill="#2a2a2a"/>
<circle cx="428.20" cy="389.40" r="1.05" fill="#2a2a2a"/>
<text x="0" y="0" font-size="10.0" text-anchor="middle" transform="translate(281.60,471.80) rotate(-90)" stroke="#333" stroke-width="0.28" textLength="91.80" lengthAdjust="spacingAndGlyphs">Total protein BALF (mg/ml)</text>
<text x="0" y="0" font-size="10.0" text-anchor="middle" transform="translate(293.60,471.50) rotate(-90)" stroke="#333" stroke-width="0.28" textLength="53.70" lengthAdjust="spacingAndGlyphs">BALB/c WT mice</text>
<rect x="0.5" y="0.5" width="519" height="582" fill="none" stroke="#505050" stroke-width="1"/>
</svg>
</body></html>
